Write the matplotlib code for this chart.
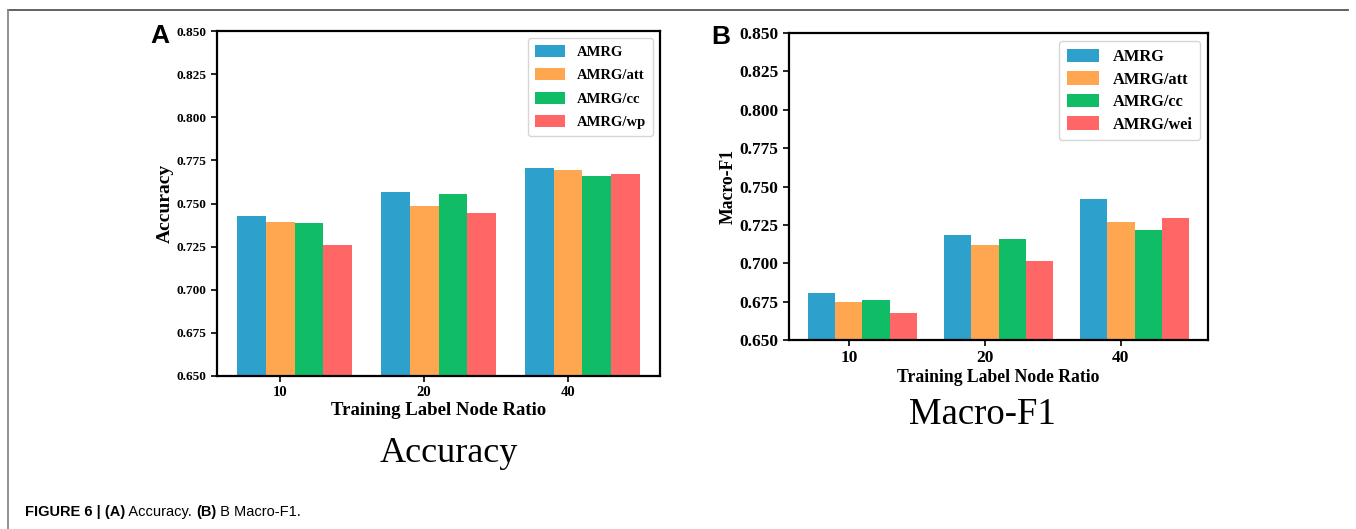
import numpy as np
import matplotlib
matplotlib.use("Agg")
import matplotlib.pyplot as plt
from matplotlib.lines import Line2D

# ---------------------- data ----------------------
ratios = ["10", "20", "40"]

acc_labels = ["AMRG", "AMRG/att", "AMRG/cc", "AMRG/wp"]
acc_amrg = [0.7428, 0.7567, 0.7706]
acc_att = [0.7393, 0.7486, 0.7694]
acc_cc = [0.7387, 0.7555, 0.7659]
acc_wp = [0.7259, 0.7445, 0.7671]

f1_labels = ["AMRG", "AMRG/att", "AMRG/cc", "AMRG/wei"]
f1_amrg = [0.6806, 0.7184, 0.7419]
f1_att = [0.6748, 0.7119, 0.7269]
f1_cc = [0.6761, 0.7158, 0.7217]
f1_wei = [0.6676, 0.7015, 0.7295]

colors = ["#2EA0CC", "#FFA650", "#11BC66", "#FF6666"]

plt.rcParams["font.family"] = "Liberation Serif"
plt.rcParams["font.weight"] = "bold"
plt.rcParams["axes.labelweight"] = "bold"

W, H = 1356, 529
fig = plt.figure(figsize=(W / 100, H / 100), dpi=100)


def draw_panel(ax, series, labels, ylabel, tick_fs, xlab_fs, ylab_fs, leg):
    x = np.arange(len(ratios))
    width = 0.2
    for i, (vals, lab) in enumerate(zip(series, labels)):
        ax.bar(x + (i - 1) * width, vals, width, color=colors[i], label=lab)
    ax.set_ylim(0.65, 0.85)
    yt = np.arange(0.65, 0.851, 0.025)
    ax.set_yticks(yt)
    ax.set_yticklabels([f"{v:.3f}" for v in yt])
    ax.set_xticks(x)
    ax.set_xticklabels(ratios)
    ax.tick_params(labelsize=tick_fs, width=1.2, length=4)
    ax.set_xlabel("Training Label Node Ratio", fontsize=xlab_fs, labelpad=2)
    ax.set_ylabel(ylabel, fontsize=ylab_fs, labelpad=2)
    for sp in ax.spines.values():
        sp.set_linewidth(1.6)
    ax.legend(loc="upper right", handleheight=0.9, **leg)


# ---------------------- panel A: accuracy ----------------------
axA = fig.add_axes([217 / W, 1 - 376 / H, 443 / W, 345 / H])
draw_panel(axA, [acc_amrg, acc_att, acc_cc, acc_wp], acc_labels, "Accuracy",
           9.5, 13.5, 14,
           dict(fontsize=10.5, handlelength=2.05, handletextpad=0.85,
                borderpad=0.45, labelspacing=0.64))
axA.tick_params(axis="x", labelsize=10.5)

# ---------------------- panel B: macro-F1 ----------------------
axB = fig.add_axes([789 / W, 1 - 340 / H, 419 / W, 307 / H])
draw_panel(axB, [f1_amrg, f1_att, f1_cc, f1_wei], f1_labels, "Macro-F1",
           12.5, 12.7, 12.7,
           dict(fontsize=11.8, handlelength=2.0, handletextpad=0.8,
                borderpad=0.45, labelspacing=0.37))

# panel captions under each chart
fig.text(449 / W, 1 - 453 / H, "Accuracy", fontsize=26, fontweight="normal",
         ha="center", va="center")
fig.text(982 / W, 1 - 415 / H, "Macro-F1", fontsize=26.5, fontweight="normal",
         ha="center", va="center")

# panel letters
fig.text(160 / W, 1 - 36 / H, "A", fontsize=19, fontweight="bold",
         family="Liberation Sans", ha="center", va="center")
fig.text(721 / W, 1 - 37 / H, "B", fontsize=19, fontweight="bold",
         family="Liberation Sans", ha="center", va="center")

# grey frame of the figure box
fig.add_artist(Line2D([8 / W, 1348 / W], [1 - 10 / H, 1 - 10 / H], color="#555555",
                      linewidth=1.3, transform=fig.transFigure))
fig.add_artist(Line2D([8 / W, 8 / W], [1 - 10 / H, 0], color="#888888",
                      linewidth=1.3, transform=fig.transFigure))

# figure caption, bold and regular runs placed one after another
cap_y = 1 - 512 / H
runs = [("FIGURE 6 | (A)", "bold"), (" Accuracy. ", "normal"),
        ("(B)", "bold"), (" B Macro-F1.", "normal")]
fig.canvas.draw()
r = fig.canvas.get_renderer()
xpos = 25
for txt, wt in runs:
    t = fig.text(xpos / W, cap_y, txt, fontsize=10.5, fontweight=wt,
                 family="Liberation Sans", va="center")
    xpos = t.get_window_extent(r).x1

fig.savefig("out.png", dpi=100)
